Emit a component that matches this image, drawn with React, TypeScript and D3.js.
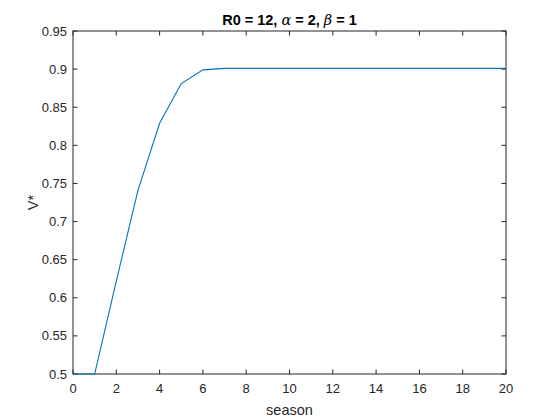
import * as d3 from "d3";

const seasons = [0, 1, 2, 3, 4, 5, 6, 7, 8, 9, 10, 11, 12, 13, 14, 15, 16, 17, 18, 19, 20];
const vStar = [
  0.5, 0.5, 0.622, 0.741, 0.829, 0.881, 0.899, 0.901, 0.901, 0.901, 0.901,
  0.901, 0.901, 0.901, 0.901, 0.901, 0.901, 0.901, 0.901, 0.901, 0.901,
];
const xTicks = [0, 2, 4, 6, 8, 10, 12, 14, 16, 18, 20];
const yTicks = [0.5, 0.55, 0.6, 0.65, 0.7, 0.75, 0.8, 0.85, 0.9, 0.95];

const W = 560;
const H = 420;
const m = { left: 73, right: 506, top: 31, bottom: 374 };
const axisColor = "#262626";
const font = "'Liberation Sans', Arial, Helvetica, sans-serif";

export default function App() {
  const x = d3.scaleLinear().domain([0, 20]).range([m.left, m.right]);
  const y = d3.scaleLinear().domain([0.5, 0.95]).range([m.bottom, m.top]);
  const line = d3
    .line<number>()
    .x((_, i) => x(seasons[i]))
    .y((d) => y(d));
  const tl = 4.5;

  return (
    <svg
      width={W}
      height={H}
      style={{ position: "absolute", left: 0, top: 0, background: "#fff" }}
      fontFamily={font}
    >
      <rect x={0} y={0} width={W} height={H} fill="#fff" />
      <g stroke={axisColor} strokeWidth={1}>
        <rect
          x={m.left}
          y={m.top}
          width={m.right - m.left}
          height={m.bottom - m.top}
          fill="none"
        />
        {xTicks.map((t) => (
          <g key={"x" + t}>
            <line x1={x(t)} x2={x(t)} y1={m.bottom} y2={m.bottom - tl} />
            <line x1={x(t)} x2={x(t)} y1={m.top} y2={m.top + tl} />
          </g>
        ))}
        {yTicks.map((t) => (
          <g key={"y" + t}>
            <line x1={m.left} x2={m.left + tl} y1={y(t)} y2={y(t)} />
            <line x1={m.right} x2={m.right - tl} y1={y(t)} y2={y(t)} />
          </g>
        ))}
      </g>
      <path d={line(vStar) || ""} fill="none" stroke="#0072BD" strokeWidth={1.1} />
      <g fill={axisColor} fontSize={13}>
        {xTicks.map((t) => (
          <text key={"xl" + t} x={x(t)} y={m.bottom + 19} textAnchor="middle">
            {t}
          </text>
        ))}
        {yTicks.map((t) => (
          <text key={"yl" + t} x={m.left - 6} y={y(t) + 4.5} textAnchor="end">
            {d3.format("")(+t.toFixed(2))}
          </text>
        ))}
      </g>
      <text
        x={(m.left + m.right) / 2}
        y={415}
        textAnchor="middle"
        fontSize={14.5}
        fill={axisColor}
      >
        season
      </text>
      <text
        transform={`translate(38,${(m.top + m.bottom) / 2}) rotate(-90)`}
        textAnchor="middle"
        fontSize={14.5}
        fill={axisColor}
      >
        V*
      </text>
      <text
        x={(m.left + m.right) / 2}
        y={25}
        textAnchor="middle"
        fontSize={14.5}
        fontWeight="bold"
        fill="#000"
      >
        <tspan>R0 = 12, </tspan>
        <tspan fontFamily="'DejaVu Serif', 'Liberation Serif', serif" fontStyle="italic" fontWeight="normal">
          α
        </tspan>
        <tspan> = 2, </tspan>
        <tspan fontFamily="'DejaVu Serif', 'Liberation Serif', serif" fontStyle="italic" fontWeight="normal">
          β
        </tspan>
        <tspan> = 1</tspan>
      </text>
    </svg>
  );
}
